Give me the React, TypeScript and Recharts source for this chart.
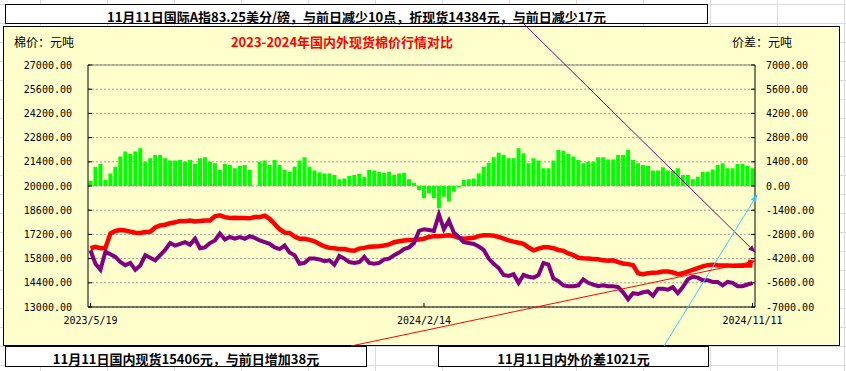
import React from 'react';
import { ComposedChart, Bar, Line, XAxis, YAxis, CartesianGrid, ReferenceLine } from 'recharts';

// 国内现货 (元/吨)
const domestic = [
  16400, 16480, 16400, 16420, 17250, 17400, 17450, 17420, 17360, 17300,
  17280, 17340, 17350, 17600, 17720, 17760, 17850, 17900, 17980, 17960,
  18000, 17950, 17980, 18000, 18000, 18250, 18300, 18200, 18150, 18170,
  18150, 18150, 18130, 18200, 18200, 18280, 18100, 17800, 17500, 17300,
  17280, 17080, 16950, 16950, 16880, 16800, 16650, 16500, 16420, 16400,
  16350, 16350, 16280, 16250, 16380, 16420, 16480, 16500, 16520, 16560,
  16620, 16750, 16800, 16850, 16870, 16880, 16900, 16950, 17050, 17100,
  17100, 17120, 17150, 17100, 17000, 16950, 16980, 17000, 17100, 17150,
  17150, 17130, 17050, 16950, 16850, 16780, 16720, 16650, 16450, 16280,
  16380, 16450, 16450, 16400, 16300, 16250, 16100, 16000, 15850, 15820,
  15800, 15780, 15760, 15700, 15680, 15700, 15600, 15520, 15480, 15420,
  14950, 14900, 14950, 14980, 15000, 15050, 15050, 15000, 14900, 14950,
  15050, 15150, 15250, 15350, 15420, 15450, 15420, 15400, 15400, 15390,
  15400, 15380, 15420, 15406,
];

// 国际折现货 (元/吨), purple line
const international = [
  16280, 15500, 15150, 16200, 16050, 15900, 15600, 15420, 15550, 15150,
  15400, 16000, 15850, 15700, 16000, 16300, 16700, 16550, 16650, 16750,
  16600, 16950, 16400, 16450, 16700, 16850, 17250, 16900, 17050, 16950,
  17050, 16950, 17100, 17000, 16850, 16750, 16650, 16450, 16350, 16550,
  16150, 16000, 15500, 15550, 15800, 15800, 15750, 15650, 15700, 15450,
  15950, 15800, 15600, 15550, 15600, 15900, 15550, 15500, 15550, 15750,
  15800, 16000, 16150, 16350, 16450, 16700, 17400, 17500, 17450, 17400,
  18350, 17500, 18000, 17300, 17050, 16750, 16700, 16650, 16500, 16300,
  15800, 15500, 15250, 14850, 14800, 14900, 14400, 14850, 14750, 14700,
  14850, 15550, 15450, 14650, 14500, 14250, 14200, 14200, 14250, 14600,
  14400, 14300, 14200, 14250, 14200, 14200, 14150, 13850, 13450, 13800,
  13750, 13850, 13900, 13650, 14050, 14050, 14000, 14150, 13800, 14150,
  14600, 14750, 14700, 14550, 14550, 14450, 14450, 14250, 14450, 14400,
  14200, 14200, 14300, 14384,
];

// 内外价差 (元/吨), green bars; null = holiday gap
const spread = [
  300, 1100, 1270, 350, 730, 1120, 1700, 1990, 1850, 1990,
  2180, 1400, 1600, 1790, 1790, 1600, 1470, 1470, 1500, 1400,
  1500, 1270, 1600, 1660, 1400, 1310, 925, 1270, 1210, 1020,
  1160, 1210, 925, null, 1400, 1470, 1210, 1500, 1210, 925,
  830, 1120, 1470, 1660, 1120, 890, 790, 730, 730, 640,
  385, 440, 580, 640, 690, 540, 925, 890, 830, 770,
  830, 640, 730, 770, 385, 190, -230, -710, -420, -710,
  -1290, -620, -900, -330, -80, 350, 385, 440, 730, 1120,
  1350, 1660, 1930, 1790, 1600, 1600, 2180, 1890, 1310, 1600,
  1470, 1020, 1020, 1470, 2080, 2040, 1850, 1700, 1500, 1310,
  1400, 1400, 1660, 1660, 1540, 1540, 1790, 1790, 2080, 1500,
  1310, 1210, 1160, 890, 890, 1080, 890, 890, 1020, 640,
  640, 385, 540, 830, 830, 960, 1210, 1310, 1020, 1020,
  1270, 1270, 1160, 1021,
];

const tickDates = ['2023/5/19', '2024/2/14', '2024/11/11'];
const tickAt = [0, 67, 133];
const priceTicks = [13000, 14400, 15800, 17200, 18600, 20000, 21400, 22800, 24200, 25600, 27000];
const spreadTicks = [-7000, -5600, -4200, -2800, -1400, 0, 1400, 2800, 4200, 5600, 7000];

const data = domestic.map((v, i) => ({
  i,
  domestic: v,
  international: international[i],
  spread: spread[i],
}));

const cjk = '"Noto Sans CJK SC", sans-serif';
const tickFont = { fontFamily: '"DejaVu Sans Mono", monospace', fontSize: 10, fill: '#000' };

// spreadsheet cell grid behind the chart
const sheetCols = [40, 107, 174, 241, 308, 375, 442, 509, 576, 643, 710, 777, 844];
const sheetRows = [4, 23, 42, 61, 80, 99, 118, 137, 156, 175, 194, 213, 232, 251, 270, 289, 308, 327, 346, 365];

const box = (left: number, top: number, width: number, height: number): React.CSSProperties => ({
  position: 'absolute', left, top, width, height, border: '1px solid #000',
  background: '#fff', boxSizing: 'border-box',
});

const label = (left: number, top: number, width: number, extra: React.CSSProperties = {}): React.CSSProperties => ({
  position: 'absolute', left, top, width, textAlign: 'center', fontFamily: cjk,
  fontSize: 13, fontWeight: 700, lineHeight: '14px', color: '#000', whiteSpace: 'nowrap', ...extra,
});

export default function App() {
  return (
    <div style={{ position: 'fixed', left: 0, top: 0, width: 846, height: 371, background: '#fff', overflow: 'hidden' }}>
      <svg width={846} height={371} style={{ position: 'absolute', left: 0, top: 0 }}>
        {sheetCols.map((x) => <line key={'c' + x} x1={x + 0.5} y1={0} x2={x + 0.5} y2={371} stroke="#dadada" />)}
        {sheetRows.map((y) => <line key={'r' + y} x1={0} y1={y + 0.5} x2={846} y2={y + 0.5} stroke="#dadada" />)}
      </svg>

      {/* chart frame */}
      <div style={{ ...box(3, 26, 837, 320), background: '#ffffcc' }} />

      <div style={{ position: 'absolute', left: 0, top: 0 }}>
        <ComposedChart width={846} height={371} data={data}
          margin={{ top: 65, right: 11, bottom: 34, left: 8 }} barCategoryGap={0.5}>
          <CartesianGrid yAxisId="price" vertical={false} stroke="#a0a0a0" strokeDasharray="2 2" />
          <XAxis dataKey="i" ticks={tickAt} interval={0} height={30}
            tickFormatter={(v) => tickDates[tickAt.indexOf(v)] ?? ''}
            tick={tickFont} tickSize={-4} tickMargin={14}
            axisLine={{ stroke: '#000' }} tickLine={{ stroke: '#000' }} />
          <YAxis yAxisId="price" orientation="left" width={80} domain={[13000, 27000]}
            ticks={priceTicks} interval={0} allowDataOverflow
            tickFormatter={(v) => v.toFixed(2)} tick={tickFont} tickSize={-4} tickMargin={20}
            axisLine={{ stroke: '#000' }} tickLine={{ stroke: '#000' }} />
          <YAxis yAxisId="spread" orientation="right" width={80} domain={[-7000, 7000]}
            ticks={spreadTicks} interval={0} allowDataOverflow
            tickFormatter={(v) => v.toFixed(2)} tick={{ ...tickFont, textAnchor: 'start' }} tickSize={-4} tickMargin={15}
            axisLine={{ stroke: '#000' }} tickLine={{ stroke: '#000' }} />
          <ReferenceLine yAxisId="price" y={27000} stroke="#808080" />
          <Bar yAxisId="spread" dataKey="spread" fill="#00ff00" isAnimationActive={false} />
          <Line yAxisId="price" dataKey="domestic" stroke="#ff0000" strokeWidth={4.5} dot={false}
            type="linear" isAnimationActive={false} />
          <Line yAxisId="price" dataKey="international" stroke="#800080" strokeWidth={4} dot={false}
            type="linear" isAnimationActive={false} />
        </ComposedChart>
      </div>

      {/* titles */}
      <div style={label(14, 35, 70, { fontWeight: 400, fontSize: 12, textAlign: 'left' })}>棉价：元吨</div>
      <div style={label(732, 35, 70, { fontWeight: 400, fontSize: 12, textAlign: 'left' })}>价差：元吨</div>
      <div style={label(200, 35, 284, { color: '#ff0000' })}>2023-2024年国内外现货棉价行情对比</div>

      {/* note boxes */}
      <div style={box(5, 4, 703, 20)} />
      <div style={label(5, 10, 703)}>11月11日国际A指83.25美分/磅，与前日减少10点，折现货14384元，与前日减少17元</div>
      <div style={box(5, 346, 362, 21)} />
      <div style={label(5, 352, 362)}>11月11日国内现货15406元，与前日增加38元</div>
      <div style={box(438, 346, 271, 21)} />
      <div style={label(438, 352, 271)}>11月11日内外价差1021元</div>

      {/* callout arrows */}
      <svg width={846} height={371} style={{ position: 'absolute', left: 0, top: 0, pointerEvents: 'none' }}>
        <defs>
          <marker id="hp" markerWidth="8" markerHeight="8" refX="7" refY="4" orient="auto" markerUnits="userSpaceOnUse">
            <path d="M0,1 L8,4 L0,7 z" fill="#800080" />
          </marker>
          <marker id="hb" markerWidth="8" markerHeight="8" refX="7" refY="4" orient="auto" markerUnits="userSpaceOnUse">
            <path d="M0,1 L8,4 L0,7 z" fill="#33ccff" />
          </marker>
          <marker id="hr" markerWidth="8" markerHeight="8" refX="7" refY="4" orient="auto" markerUnits="userSpaceOnUse">
            <path d="M0,1 L8,4 L0,7 z" fill="#ff0000" />
          </marker>
        </defs>
        <line x1={524} y1={24} x2={755} y2={252} stroke="#800080" strokeWidth={1} markerEnd="url(#hp)" />
        <line x1={664} y1={346} x2={757} y2={195} stroke="#33ccff" strokeWidth={1} markerEnd="url(#hb)" />
        <line x1={351} y1={346} x2={755} y2={261} stroke="#ff0000" strokeWidth={1} markerEnd="url(#hr)" />
      </svg>
    </div>
  );
}
